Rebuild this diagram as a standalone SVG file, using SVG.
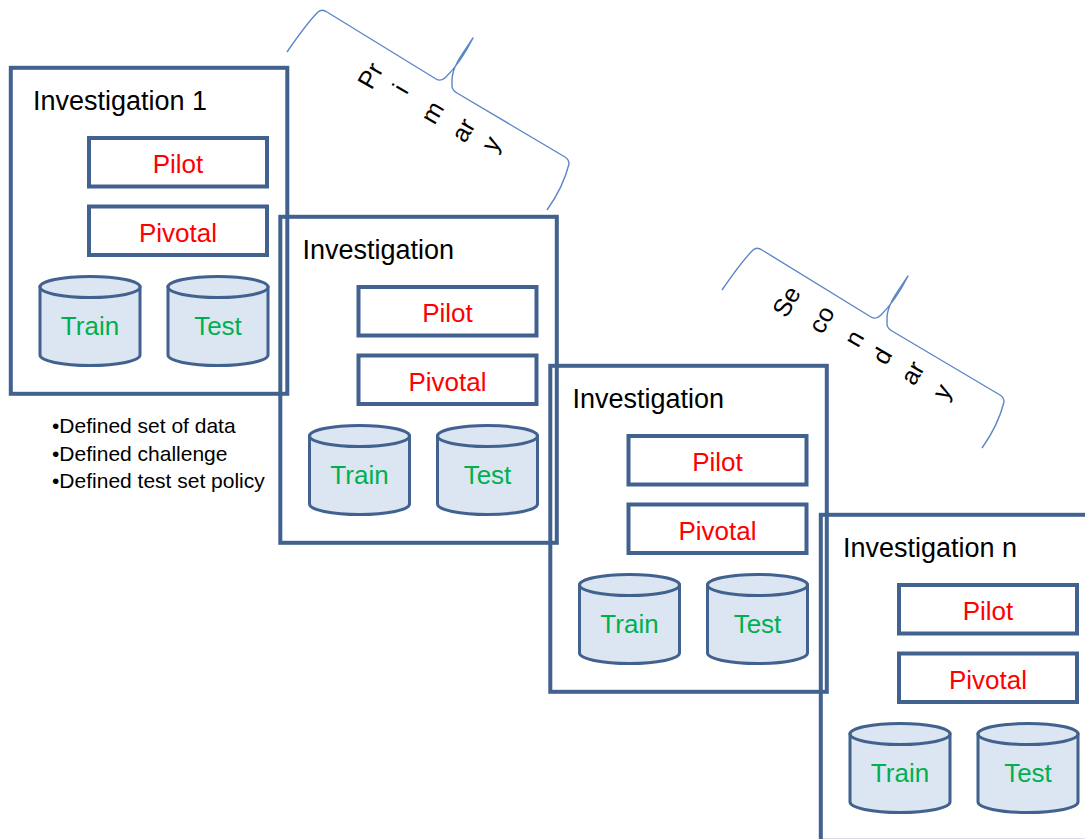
<svg xmlns="http://www.w3.org/2000/svg" width="1085" height="839" viewBox="0 0 1085 839">
  <style>
    .frame { fill: none; stroke: #41618e; stroke-width: 4; }
    .box { fill: #ffffff; stroke: #41618e; stroke-width: 4; }
    .cyl { fill: #dce6f2; stroke: #41618e; stroke-width: 3; }
    .title { font-family: "Liberation Sans", Arial, sans-serif; font-size: 27px; fill: #000000; }
    .red { font-family: "Liberation Sans", Arial, sans-serif; font-size: 26px; fill: #ff0000; text-anchor: middle; }
    .green { font-family: "Liberation Sans", Arial, sans-serif; font-size: 26px; fill: #00b050; text-anchor: middle; }
    .note { font-family: "Liberation Sans", Arial, sans-serif; font-size: 21px; fill: #000000; }
    .brace { fill: none; stroke: #5b87c7; stroke-width: 1.4; stroke-linejoin: round; }
    .rot { font-family: "Liberation Sans", Arial, sans-serif; font-size: 25px; fill: #000000; text-anchor: middle; }
  </style>
  <defs>
    <g id="cylShape">
      <path class="cyl" d="M-50,0 V68 A50,10.5 0 0 0 50,68 V0 Z"/>
      <ellipse class="cyl" cx="0" cy="0" rx="50" ry="10.5"/>
    </g>
    <path id="braceShape" class="brace" d="M287,52 C298,36 311,19 318,12 Q322,8.5 327,12 L436,79 Q441,82 446,77 C456,67 466,52 473,38 C464,52 452,66 452,80 L452,86 Q452,90 457,93 L565,157 Q569,159.5 569,164 C565,180 557,196 547,210"/>
  </defs>

  <g id="investigation-1" transform="translate(0,0)">
    <rect class="frame" x="10.8" y="67.8" width="276.5" height="326"/>
    <text class="title" x="33" y="110">Investigation 1</text>
    <g id="pilot-1"><rect class="box" x="89" y="138" width="178" height="48.5"/><text class="red" x="178" y="172.5">Pilot</text></g>
    <g id="pivotal-1"><rect class="box" x="89" y="206.5" width="178" height="48.5"/><text class="red" x="178" y="241.5">Pivotal</text></g>
    <g id="train-1"><use href="#cylShape" x="90" y="287"/><text class="green" x="90" y="335">Train</text></g>
    <g id="test-1"><use href="#cylShape" x="218" y="287"/><text class="green" x="218" y="335">Test</text></g>
  </g>

  <g id="notes">
    <text class="note" x="52" y="433">•Defined set of data</text>
    <text class="note" x="52" y="460.5">•Defined challenge</text>
    <text class="note" x="52" y="488">•Defined test set policy</text>
  </g>

  <g id="investigation-2" transform="translate(269.5,149)">
    <rect class="frame" x="10.8" y="67.8" width="276.5" height="326"/>
    <text class="title" x="33" y="110">Investigation</text>
    <g id="pilot-2"><rect class="box" x="89" y="138" width="178" height="48.5"/><text class="red" x="178" y="172.5">Pilot</text></g>
    <g id="pivotal-2"><rect class="box" x="89" y="206.5" width="178" height="48.5"/><text class="red" x="178" y="241.5">Pivotal</text></g>
    <g id="train-2"><use href="#cylShape" x="90" y="287"/><text class="green" x="90" y="335">Train</text></g>
    <g id="test-2"><use href="#cylShape" x="218" y="287"/><text class="green" x="218" y="335">Test</text></g>
  </g>

  <g id="investigation-3" transform="translate(539.5,298)">
    <rect class="frame" x="10.8" y="67.8" width="276.5" height="326"/>
    <text class="title" x="33" y="110">Investigation</text>
    <g id="pilot-3"><rect class="box" x="89" y="138" width="178" height="48.5"/><text class="red" x="178" y="172.5">Pilot</text></g>
    <g id="pivotal-3"><rect class="box" x="89" y="206.5" width="178" height="48.5"/><text class="red" x="178" y="241.5">Pivotal</text></g>
    <g id="train-3"><use href="#cylShape" x="90" y="287"/><text class="green" x="90" y="335">Train</text></g>
    <g id="test-3"><use href="#cylShape" x="218" y="287"/><text class="green" x="218" y="335">Test</text></g>
  </g>

  <g id="investigation-n" transform="translate(810,447)">
    <rect class="frame" x="10.8" y="67.8" width="276.5" height="326"/>
    <text class="title" x="33" y="110">Investigation n</text>
    <g id="pilot-n"><rect class="box" x="89" y="138" width="178" height="48.5"/><text class="red" x="178" y="172.5">Pilot</text></g>
    <g id="pivotal-n"><rect class="box" x="89" y="206.5" width="178" height="48.5"/><text class="red" x="178" y="241.5">Pivotal</text></g>
    <g id="train-n"><use href="#cylShape" x="90" y="287"/><text class="green" x="90" y="335">Train</text></g>
    <g id="test-n"><use href="#cylShape" x="218" y="287"/><text class="green" x="218" y="335">Test</text></g>
  </g>

  <g id="brace-primary">
    <use href="#braceShape"/>
    <text class="rot" transform="translate(370.7,75.7) rotate(-60)" dy="0.33em">Pr</text>
    <text class="rot" transform="translate(400.7,89) rotate(-60)" dy="0.33em">i</text>
    <text class="rot" transform="translate(433.3,113) rotate(-60)" dy="0.3em">m</text>
    <text class="rot" transform="translate(464,130.7) rotate(-60)" dy="0.3em">ar</text>
    <text class="rot" transform="translate(494,145.7) rotate(-60)" dy="0.2em">y</text>
  </g>

  <g id="brace-secondary">
    <use href="#braceShape" transform="translate(435,238)"/>
    <text class="rot" transform="translate(786.7,301.7) rotate(-60)" dy="0.33em">Se</text>
    <text class="rot" transform="translate(822.3,320) rotate(-60)" dy="0.3em">co</text>
    <text class="rot" transform="translate(855,339) rotate(-60)" dy="0.3em">n</text>
    <text class="rot" transform="translate(882.3,356) rotate(-60)" dy="0.33em">d</text>
    <text class="rot" transform="translate(913.3,373.3) rotate(-60)" dy="0.3em">ar</text>
    <text class="rot" transform="translate(945,393.3) rotate(-60)" dy="0.2em">y</text>
  </g>

  <g id="connectors"></g>
</svg>
